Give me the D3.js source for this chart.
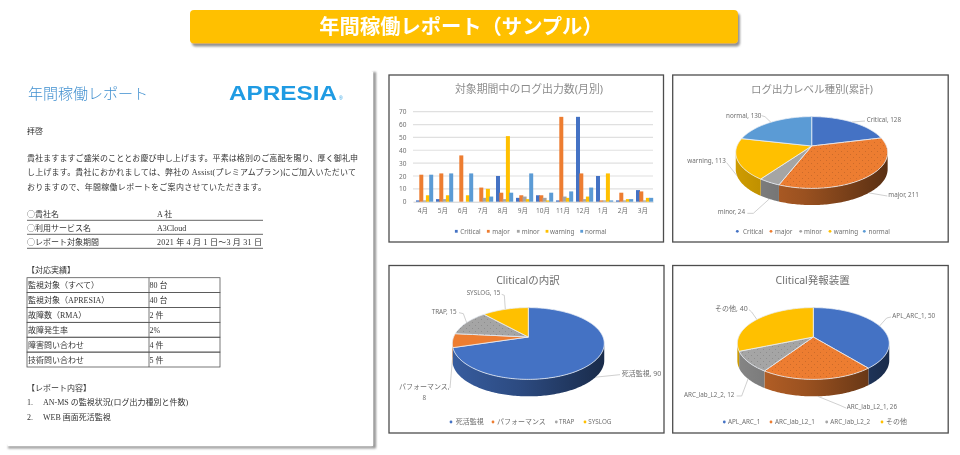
<!DOCTYPE html>
<html lang="ja">
<head>
<meta charset="utf-8">
<script src="https://cdn.jsdelivr.net/npm/d3@7/dist/d3.min.js"></script>
<style>
html,body{margin:0;padding:0;background:#fff;}
svg{display:block;filter:blur(0.4px);}
text{font-family:"Noto Sans","Noto Sans CJK JP",sans-serif;}
.doc text{font-family:"Liberation Serif","Noto Sans CJK JP",serif;fill:#333;font-size:8px;}
</style>
</head>
<body>
<svg id="c" width="960" height="455" xmlns="http://www.w3.org/2000/svg"></svg>
<script>
// ---------- data ----------
const bannerTitle = "年間稼働レポート（サンプル）";
const monthLabels = ["4月","5月","6月","7月","8月","9月","10月","11月","12月","1月","2月","3月"];
const levelNames = ["Critical","major","minor","warning","normal"];
const criticalCounts = [1,2,0,0,20,3,5,1,66,20,1,9];
const majorCounts = [21,22,36,11,7,5,5,66,22,1,7,8];
const minorCounts = [1,2,0,3,2,4,3,4,2,1,1,1];
const warningCounts = [5,5,5,10,51,2,1,3,4,22,2,3];
const normalCounts = [21,22,22,4,7,22,7,8,11,1,2,3];
const yTicks = [0,10,20,30,40,50,60,70];
const levelTotals = [128,211,24,113,130];
const typeNames = ["死活監視","パフォーマンス","TRAP","SYSLOG"];
const typeCounts = [90,8,15,15];
const deviceNames = ["APL_ARC_1","ARC_lab_L2_1","ARC_lab_L2_2","その他"];
const deviceCounts = [50,26,12,40];
const tableLabels = ["監視対象（すべて）","監視対象（APRESIA）","故障数（RMA）","故障発生率","障害問い合わせ","技術問い合わせ"];
const tableValues = ["80 台","40 台","2 件","2%","4 件","5 件"];
const infoLabels = ["○貴社名","○利用サービス名","○レポート対象期間"];
const infoValues = ["A 社","A3Cloud","2021 年 4 月 1 日～3 月 31 日"];
const greetingLines = [
 "貴社ますますご盛栄のこととお慶び申し上げます。平素は格別のご高配を賜り、厚く御礼申",
 "し上げます。貴社におかれましては、弊社の Assist(プレミアムプラン)にご加入いただいて",
 "おりますので、年間稼働レポートをご案内させていただきます。"];
const contentItems = [["1.","AN-MS の監視状況(ログ出力種別と件数)"],["2.","WEB 画面死活監視"]];

// ---------- style ----------
const palette = ["#4472C4","#ED7D31","#A5A5A5","#FFC000","#5B9BD5"];
const pieColors4 = ["#4472C4","#ED7D31","#A5A5A5","#FFC000"];
const textGrey = "#6f6f6f";
const labelSize = s => /[^\x00-\x7f]/.test(s) ? 7 : 6.3;

const svg = d3.select("#c");
const defs = svg.append("defs");

const f = defs.append("filter").attr("id","sh").attr("x","-5%").attr("y","-20%").attr("width","110%").attr("height","150%");
f.append("feDropShadow").attr("dx",2).attr("dy",3).attr("stdDeviation",1.3).attr("flood-color","#777").attr("flood-opacity",.8);
const soft = defs.append("filter").attr("id","soft").attr("x","-2%").attr("y","-2%").attr("width","104%").attr("height","104%");
soft.append("feGaussianBlur").attr("stdDeviation",.9);
const pat = defs.append("pattern").attr("id","dots").attr("width",6).attr("height",6).attr("patternUnits","userSpaceOnUse");
pat.append("circle").attr("cx",1.5).attr("cy",1.5).attr("r",.4).attr("fill","#000").attr("opacity",.32);
pat.append("circle").attr("cx",4.5).attr("cy",4.5).attr("r",.4).attr("fill","#000").attr("opacity",.32);

// ---------- banner ----------
svg.append("rect").attr("x",190).attr("y",10).attr("width",548).attr("height",33.5).attr("rx",4)
  .attr("fill","#FFC000").attr("filter","url(#sh)");
svg.append("text").attr("x",461).attr("y",34).attr("text-anchor","middle")
  .attr("font-size",20.3).attr("font-weight",700).attr("fill","#fff")
  .style("font-family",'"Noto Sans CJK JP",sans-serif').text(bannerTitle);

// ---------- report page ----------
const pageEdge = svg.append("g").attr("filter","url(#soft)");
pageEdge.append("rect").attr("x",373).attr("y",72).attr("width",3).attr("height",376).attr("fill","#8f8f8f");
pageEdge.append("rect").attr("x",8).attr("y",446).attr("width",368).attr("height",2.4).attr("fill","#8f8f8f");
svg.append("rect").attr("x",8).attr("y",72).attr("width",365).attr("height",374).attr("fill","#fff");
const doc = svg.append("g").attr("class","doc");
const jp = '"Noto Sans CJK JP",sans-serif';
doc.append("text").attr("x",28).attr("y",98.5).style("font-size","15px").style("fill","#3f8fcf").style("font-family",jp).style("font-weight",300).text("年間稼働レポート");
doc.append("text").attr("x",229).attr("y",99.5).attr("textLength",108).attr("lengthAdjust","spacingAndGlyphs")
  .style("font-size","19.5px").style("font-weight",700).style("fill","#1f9be3").style("font-family",'"Liberation Sans",sans-serif').text("APRESIA");
doc.append("text").attr("x",339).attr("y",99.5).style("font-size","5px").style("fill","#1f9be3").style("font-family",'"Liberation Sans",sans-serif').text("®");
doc.append("text").attr("x",27).attr("y",133.5).text("拝啓");
doc.selectAll("text.g").data(greetingLines).join("text").attr("class","g").attr("x",27)
  .attr("y",(d,i)=>[160.5,175,189.5][i]).attr("textLength",(d,i)=>[331,329,239][i]).attr("lengthAdjust","spacing").text(d=>d);
infoLabels.forEach((d,i)=>{
  const y = 217 + i*14;
  doc.append("text").attr("x",27).attr("y",y).style("font-family",jp).text(d);
  doc.append("text").attr("x",157).attr("y",y).attr("textLength",i==2?105:null).text(infoValues[i]);
  doc.append("line").attr("x1",27).attr("x2",263).attr("y1",y+3.3).attr("y2",y+3.3).attr("stroke","#555").attr("stroke-width",.9);
});
doc.append("text").attr("x",27).attr("y",273).text("【対応実績】");
const rowY = d3.scaleBand().domain(d3.range(tableLabels.length)).range([277.7,367]);
tableLabels.forEach((d,i)=>{
  const y = rowY(i);
  doc.append("text").attr("x",28).attr("y",y+10.5).text(d);
  doc.append("text").attr("x",149.5).attr("y",y+10.5).text(tableValues[i]);
  doc.append("rect").attr("x",27).attr("y",y).attr("width",193).attr("height",rowY.bandwidth()).attr("fill","none").attr("stroke","#555").attr("stroke-width",.8);
});
doc.append("line").attr("x1",149).attr("x2",149).attr("y1",277.7).attr("y2",367).attr("stroke","#555").attr("stroke-width",.8);
doc.append("text").attr("x",27).attr("y",391).text("【レポート内容】");
contentItems.forEach((d,i)=>{
  const y = 405 + i*14.5;
  doc.append("text").attr("x",27).attr("y",y).text(d[0]);
  doc.append("text").attr("x",43).attr("y",y).text(d[1]);
});

// ---------- chart frames ----------
const frames = [
 {x:389,y:75,w:274.5,h:167,title:"対象期間中のログ出力数(月別)",tx:529,ty:93},
 {x:672.7,y:75,w:275.5,h:167,title:"ログ出力レベル種別(累計)",tx:812,ty:93},
 {x:389,y:265.5,w:275,h:167.5,title:"Cliticalの内訳",tx:528,ty:284},
 {x:672.7,y:265.5,w:275.5,h:167.5,title:"Clitical発報装置",tx:812.7,ty:284}];
frames.forEach((c,i)=>{
  svg.append("rect").attr("x",c.x).attr("y",c.y).attr("width",c.w).attr("height",c.h)
    .attr("fill","#fff").attr("stroke","#4d4d4d").attr("stroke-width",1.3);
  svg.append("text").attr("x",c.tx).attr("y",c.ty).attr("text-anchor","middle").attr("font-size",i<1?10.9:10.5)
    .attr("fill",i<2?"#8c8c8c":"#6e6e6e").text(c.title);
});

// ---------- bar chart ----------
const seriesValues = [criticalCounts,majorCounts,minorCounts,warningCounts,normalCounts];
const x0 = d3.scaleBand().domain(monthLabels).range([413,653]);
const x1 = d3.scalePoint().domain(levelNames).range([3,16.2]);
const barWidth = 4;
const y = d3.scaleLinear().domain([0,70]).range([201.7,111.7]);
svg.append("g").selectAll("line").data(yTicks.filter(d=>d>0)).join("line")
  .attr("x1",413).attr("x2",653).attr("y1",d=>y(d)).attr("y2",d=>y(d))
  .attr("stroke","#e0e0e0").attr("stroke-width",1.2);
const yAxis = svg.append("g").attr("transform","translate(413,0)")
  .call(d3.axisLeft(y).tickValues(yTicks).tickSize(0).tickPadding(6.5));
yAxis.select(".domain").remove();
yAxis.selectAll("text").attr("font-size",6.5).attr("fill",textGrey).style("font-family",'"Noto Sans",sans-serif');
const xAxis = svg.append("g").attr("transform","translate(0,201.7)")
  .call(d3.axisBottom(x0).tickSize(0).tickPadding(6.5));
xAxis.select(".domain").attr("stroke","#d0d0d0");
xAxis.selectAll("text").attr("font-size",6.6).attr("fill",textGrey).style("font-family",'"Noto Sans","Noto Sans CJK JP",sans-serif');
levelNames.forEach((name,si)=>{
  svg.append("g").selectAll("rect").data(seriesValues[si]).join("rect")
    .attr("x",(d,i)=>x0(monthLabels[i])+x1(name))
    .attr("width",barWidth)
    .attr("y",d=>y(d))
    .attr("height",d=>y(0)-y(d))
    .attr("fill",palette[si]);
});
function legend(names,colors,markX,textX,cy,square){
  names.forEach((n,i)=>{
    if(square) svg.append("rect").attr("x",markX[i]-1.4).attr("y",cy-1.4).attr("width",2.8).attr("height",2.8).attr("fill",colors[i]);
    else svg.append("circle").attr("cx",markX[i]).attr("cy",cy).attr("r",1.4).attr("fill",colors[i]);
    svg.append("text").attr("x",textX[i]).attr("y",cy+2.2).attr("font-size",labelSize(n)).attr("fill",textGrey).text(n);
  });
}
legend(levelNames,palette,[456.3,488.3,518.3,547,581.7],[460.3,492.3,521.7,550,585],231.3,true);

// ---------- 3D pies ----------
const K = 0.181;
let gradId = 0;
function wallGradient(color,x1,x2){
  const id = "wall"+(gradId++);
  const g = defs.append("linearGradient").attr("id",id).attr("gradientUnits","userSpaceOnUse")
    .attr("x1",x1).attr("x2",x2).attr("y1",0).attr("y2",0);
  const c = d3.color(color);
  g.append("stop").attr("offset","0%").attr("stop-color",c.darker(.6));
  g.append("stop").attr("offset","45%").attr("stop-color",c.darker(1.2));
  g.append("stop").attr("offset","100%").attr("stop-color",c.darker(2.7));
  return id;
}
function drawPie(cfg){
  const {cx,cy,R,B,depth,values,names,colors,labels,dotted,ox,oy} = cfg;
  const project = t => {
    const X = Math.sin(t), Z = Math.cos(t), s = 1/(1+K*Z);
    return [cx + R*X*s, cy - B*Z*s];
  };
  const arcs = d3.pie().sort(null).value(d=>d)(values);
  const tR = Math.acos(-K), tL = 2*Math.PI - tR;
  const steps = (a,b)=>{const n=Math.max(2,Math.ceil((b-a)/0.02));return d3.range(n+1).map(i=>a+(b-a)*i/n);};
  const line = d3.line();
  const g = svg.append("g");
  arcs.forEach((a,i)=>{
    const s = Math.max(a.startAngle,tR), e = Math.min(a.endAngle,tL);
    if(e<=s) return;
    const top = steps(s,e).map(project);
    const bottom = top.map(p=>[p[0],p[1]+depth]).reverse();
    const id = wallGradient(colors[i],cx-R,cx+R);
    g.append("path").attr("d",line(top.concat(bottom))+"Z").attr("fill",`url(#${id})`);
  });
  arcs.forEach((a,i)=>{
    const pts = [[cx,cy]].concat(steps(a.startAngle,a.endAngle).map(project));
    const d = line(pts)+"Z";
    g.append("path").attr("d",d).attr("fill",colors[i]).attr("stroke","#e8eef5").attr("stroke-width",.8).attr("stroke-linejoin","round");
    if(dotted.includes(i)) g.append("path").attr("d",d).attr("fill","url(#dots)");
  });
  arcs.forEach((a,i)=>{
    const m = (a.startAngle+a.endAngle)/2;
    const p = project(m);
    const anchor = Math.cos(m)<0 ? [p[0],p[1]+depth] : p;
    const L = labels[i];
    const pts = L.path.map(q=>[ox+q[0]/3,oy+q[1]/3]).concat([anchor]);
    svg.append("path").attr("d",line(pts)).attr("fill","none").attr("stroke","#bcbcbc").attr("stroke-width",.7);
    L.text.forEach(t=>{
      const s = t.s.replace("{n}",names[i]).replace("{v}",values[i]);
      svg.append("text").attr("x",ox+t.x/3).attr("y",oy+t.y/3).attr("text-anchor",t.a||"start")
        .attr("font-size",labelSize(s)).attr("fill",textGrey).text(s);
    });
  });
}
drawPie({cx:811.7,cy:146,R:74.7,B:34.7,depth:16.7,values:levelTotals,names:levelNames,colors:palette,dotted:[1],ox:670,oy:70,
 labels:[
  {text:[{x:590,y:156,s:"{n}, {v}"}],path:[[585,153]]},
  {text:[{x:655,y:382,s:"{n}, {v}"}],path:[[652,378]]},
  {text:[{x:143,y:433,s:"{n}, {v}"}],path:[[232,430],[250,430]]},
  {text:[{x:52,y:280,s:"{n}, {v}"}],path:[[170,278]]},
  {text:[{x:168,y:143,s:"{n}, {v}"}],path:[[275,137],[285,140]]}]});
legend(levelNames,palette,[737.3,771,800.7,830,864.3],[743,775,804,833.7,868.5],231.3,false);

drawPie({cx:528.3,cy:337,R:74.7,B:34.7,depth:17,values:typeCounts,names:typeNames,colors:pieColors4,dotted:[2],ox:385,oy:262,
 labels:[
  {text:[{x:710,y:342,s:"{n}, {v}"}],path:[[705,338]]},
  {text:[{x:42,y:380,s:"{n},"},{x:118,y:414,s:"{v}",a:"middle"}],path:[[195,378]]},
  {text:[{x:140,y:155,s:"{n}, {v}"}],path:[[222,152],[235,155]]},
  {text:[{x:245,y:100,s:"{n}, {v}"}],path:[[350,97],[358,100]]}]});
legend(typeNames,pieColors4,[451,493,556.3,585],[455.7,497,559,588.3],422,false);

drawPie({cx:813.3,cy:337,R:74.7,B:34.7,depth:17,values:deviceCounts,names:deviceNames,colors:pieColors4,dotted:[1,2],ox:670,oy:262,
 labels:[
  {text:[{x:667,y:168,s:"{n}, {v}"}],path:[[663,165],[650,168]]},
  {text:[{x:530,y:442,s:"{n}, {v}"}],path:[[528,438],[510,430]]},
  {text:[{x:42,y:404,s:"{n}, {v}"}],path:[[200,402],[215,402]]},
  {text:[{x:135,y:146,s:"{n}, {v}"}],path:[[237,143],[245,150]]}]});
legend(deviceNames,pieColors4,[724.3,771,826.7,882],[728,775,830.3,886],422,false);
</script>
</body>
</html>
